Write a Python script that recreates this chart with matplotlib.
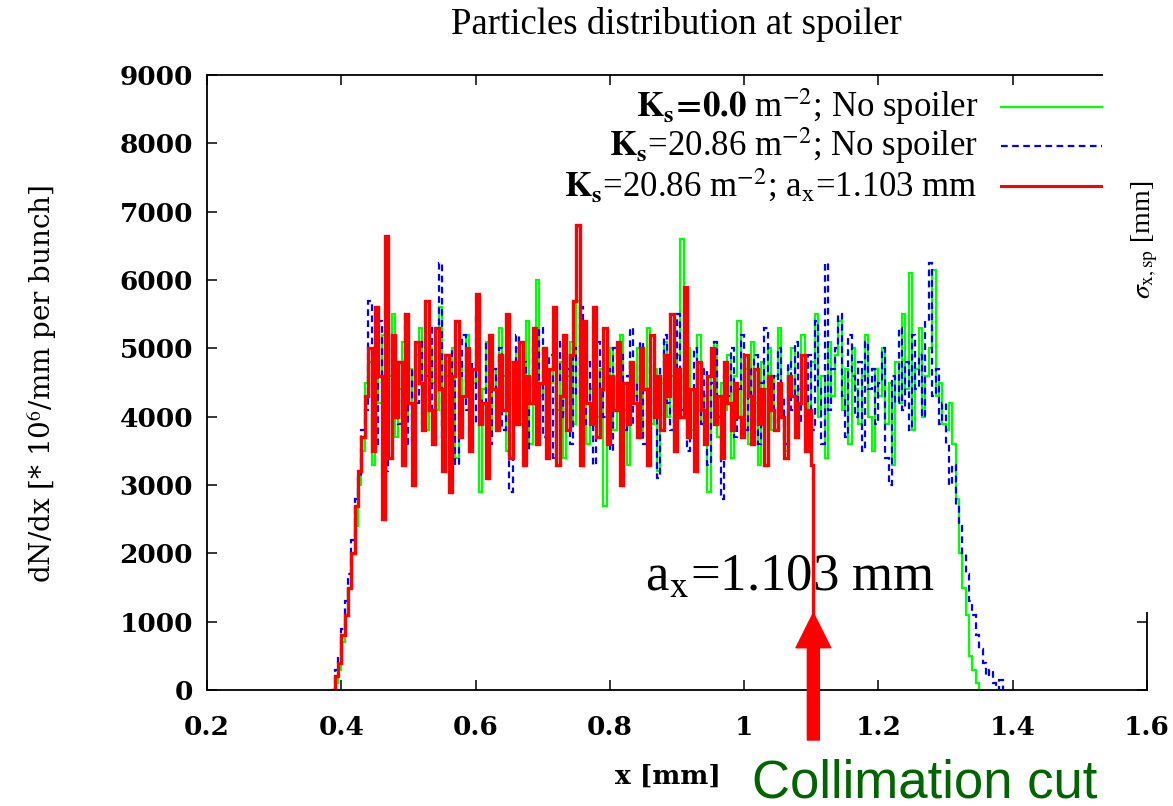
import matplotlib
matplotlib.use("Agg")
import matplotlib.pyplot as plt
from matplotlib.patches import Rectangle
import numpy as np

plt.rcParams["font.family"] = ["Liberation Serif", "DejaVu Serif"]
plt.rcParams["mathtext.fontset"] = "stix"

# histogram bins (mm)
bin_width = 0.005
green_start = 0.390
blue_start = 0.385
red_start = 0.390
red_cut = 1.103

# dN/dx [*10^6/mm per bunch]
green_counts = [
    100, 300, 700, 1100, 1500, 2000, 2400, 3000, 3500, 4500,
    4800, 3300, 5000, 4200, 5200, 3900, 4600, 5500, 3700, 4400,
    5100, 4000, 4700, 3600, 4900, 5300, 4300, 3800, 5000, 4500,
    4100, 5600, 3900, 4600, 4200, 5000, 3400, 4800, 4300, 5200,
    3700, 4500, 4900, 2900, 4400, 5100, 3800, 4700, 4000, 5300,
    4600, 3500, 4800, 4200, 5000, 3900, 4400, 5400, 3600, 4700,
    6000, 4300, 5000, 3800, 4500, 5200, 4100, 4800, 3400, 4600,
    5100, 3900, 5700, 4300, 4900, 3600, 4400, 5300, 4000, 4700,
    2700, 4500, 5000, 3800, 4600, 5200, 4100, 3300, 4800, 4300,
    5000, 3700, 4400, 5300, 3900, 4700, 3200, 4500, 5100, 4000,
    4600, 3500, 4900, 6600, 4200, 5000, 3800, 4400, 5200, 3900,
    4300, 2900, 4700, 5100, 3700, 4500, 4100, 4900, 3400, 4600,
    5400, 4000, 4700, 3600, 5100, 4200, 3300, 4800, 4400, 5000,
    3800, 4600, 5300, 4100, 3500, 4700, 5000, 3900, 4400, 5200,
    4300, 3700, 4800, 5500, 4000, 4600, 3400, 5100, 4300, 4900,
    5400, 4100, 4700, 3600, 5000, 4400, 3900, 4600, 5200, 4000,
    3500, 4700, 4300, 5000, 3900, 4500, 3300, 4800, 4200, 5500,
    4400, 6100, 3800, 4700, 5300, 4000, 4600, 5000, 6150, 4300,
    4500, 3900,
    3800, 4200, 3600, 2800, 2000, 1500, 1100, 500, 300, 100, 0,
]

blue_counts = [
    0, 300, 500, 900, 1300, 1700, 2200, 2800, 3100, 3800, 4100,
    5700, 4300, 3600, 5400, 4500, 3200, 5000, 4100, 4800, 3900,
    4400, 5500, 3600, 4700, 4200, 5100, 3800, 4600, 5300, 4000,
    4500, 6250, 3700, 4900, 4300, 5000, 3300, 4600, 5200, 4100,
    4800, 3900, 5500, 4300, 4000, 5100, 3600, 4700, 4400, 5000,
    3800, 4600, 2900, 4500, 5200, 4100, 4800, 3500, 4400, 5000,
    4200, 5300, 3700, 4600, 4900, 3400, 4500, 5100, 4000, 4700,
    3600, 5000, 4300, 5600, 3900, 4800, 4200, 3300, 5100, 4400,
    4000, 4700, 3500, 5000, 4300, 4900, 3800, 4600, 5300, 3900,
    4500, 5100, 3600, 4400, 4900, 4000, 3100, 4700, 5200, 4200,
    3800, 4600, 5500, 4100, 4800, 3500, 4400, 5000, 4300, 3900,
    4700, 3300, 4500, 5100, 4000, 2800, 4600, 4300, 5000, 3700,
    4400, 5200, 3800, 4700, 4100, 4900, 3600, 4500, 5300, 4200,
    4600, 3900, 5000, 4300, 3600, 4800, 4100, 5100, 3900, 4500,
    4200, 4900, 3800, 5400, 4400, 3600, 6250, 4100, 4700, 5000,
    5500, 4300, 3700, 5200, 4600, 4000, 4800, 3500, 5100, 4400,
    4700, 3900, 4500, 5000, 3400, 3000, 4600, 4200, 5300, 4100,
    4800, 3800, 5200, 4400, 4900, 4000, 5400, 6250, 4300, 4700,
    3900, 4200,
    3600, 3000, 3300, 2700, 2400, 2000, 1700, 1300, 1100, 800,
    600, 400, 200, 300, 100, 0, 150,
]

red_counts = [
    200, 400, 800, 1100, 1500, 2000, 2700, 3200, 3700, 4300,
    5000, 3500, 5600, 4600, 2500, 6650, 3400, 5200, 4000, 4800,
    3300, 5500, 4200, 3000, 5100, 4500, 3800, 5700, 4100, 3600,
    5300, 4400, 3200, 4900, 2900, 4600, 5400, 3700, 4300, 5000,
    3500, 4700, 5800, 3900, 4200, 3100, 5200, 4400, 3800, 4900,
    4100, 5500, 3400, 4800, 3900, 5100, 3300, 4600, 4200, 5300,
    3600, 4500, 5000, 3400, 4700, 5600, 3300, 4300, 5200, 3800,
    4900, 5700, 6800, 3300, 5400, 4200, 3900, 5600, 3700, 4400,
    5300, 3600, 4600, 4100, 5100, 3000, 4500, 3900, 4800, 4200,
    3700, 5000, 4400, 3300, 5200, 4000, 4600, 3800, 4900, 4300,
    5500, 3500, 4700, 4000, 5900, 3700, 4400, 3200, 4800, 4100,
    3600, 4600, 5000, 3900, 4300, 3400, 4800, 4200, 3800, 4500,
    4000, 3700, 4900, 4300, 3600, 4700, 3900, 4400, 3300, 4600,
    4100, 3800, 4500, 4000, 3400, 4600, 4300, 3700, 4200, 4900,
    3500, 4100,
    3300,
]

labels = [
    r"$\mathbf{K_s\!=\!0.0}$ m$^{-2}$; No spoiler",
    r"$\mathbf{K_s}$=20.86 m$^{-2}$; No spoiler",
    r"$\mathbf{K_s}$=20.86 m$^{-2}$; a$_\mathrm{x}$=1.103 mm",
]

green_edges = green_start + bin_width * np.arange(len(green_counts) + 1)
blue_edges = blue_start + bin_width * np.arange(len(blue_counts) + 1)
red_edges = np.append(red_start + bin_width * np.arange(len(red_counts)), red_cut)

fig = plt.figure(figsize=(11.73, 8.06), dpi=100)
ax = fig.add_axes([0.1765, 0.1439, 0.8014, 0.7630])

ax.stairs(green_counts, green_edges, color="#00ff00", lw=1.6, baseline=0)
ax.stairs(blue_counts, blue_edges, color="#0000ff", lw=1.6, ls=(0, (3, 2)), baseline=0)
ax.stairs(red_counts, red_edges, color="#ff0000", lw=2.4, baseline=0)

ax.set_xlim(0.2, 1.6)
ax.set_ylim(0, 9000)
ax.set_xticks(np.arange(0.2, 1.61, 0.2))
ax.set_xticklabels(["0.2", "0.4", "0.6", "0.8", "1", "1.2", "1.4", "1.6"])
ax.set_yticks(np.arange(0, 9001, 1000))
ax.tick_params(direction="in", length=7, width=1.1, top=True, right=True,
               labelsize=19, pad=18)
ax.tick_params(axis="y", pad=10)
for lab in ax.get_xticklabels() + ax.get_yticklabels():
    lab.set_family("DejaVu Serif")
    lab.set_fontweight("bold")
for sp in ax.spines.values():
    sp.set_linewidth(1.3)

# gnuplot-style key: text right-aligned, sample on the right
key_colors = ["#00ff00", "#0000ff", "#ff0000"]
key_styles = ["-", (0, (3, 2)), "-"]
key_y = [0.948, 0.885, 0.820]
for lab, c, s, y in zip(labels, key_colors, key_styles, key_y):
    ax.text(0.820, y, lab, transform=ax.transAxes, ha="right", va="center",
            fontsize=25)
    ax.plot([0.845, 0.952], [y, y], transform=ax.transAxes, color=c, ls=s,
            lw=1.6 if c != "#ff0000" else 2.2)

ax.text(0.852, 1640, r"a$_\mathrm{x}$=1.103 mm", fontsize=38, ha="left", va="center")
ax.annotate("", xy=(red_cut, 1127), xytext=(red_cut, -732),
            arrowprops=dict(facecolor="#ff0000", edgecolor="#ff0000", width=8.6,
                            headwidth=25, headlength=25, shrink=0),
            annotation_clip=False)

fig.text(0.577, 1 - 25 / 806, "Particles distribution at spoiler",
         ha="center", va="center", fontsize=26.5)
fig.text(42 / 1173, 1 - 384 / 806, r"dN/dx [* 10$^6$/mm per bunch]",
         rotation=90, ha="center", va="center", fontsize=20, family="DejaVu Serif")
fig.text(668 / 1173, 1 - 776 / 806, "x [mm]", ha="center", va="center",
         fontsize=19, family="DejaVu Serif", fontweight="bold")
fig.text(752 / 1173, 1 - 783 / 806, "Collimation cut", ha="left", va="center",
         fontsize=38, family="Liberation Sans", color="#006400")

# upper right of the frame is blanked out in the original
fig.patches.append(Rectangle((1103 / 1173, (806 - 612) / 806), 1, 1,
                             transform=fig.transFigure, facecolor="white",
                             edgecolor="none", zorder=10))
fig.text(1145 / 1173, 1 - 240 / 806, r"$\sigma_{\mathrm{x,sp}}$ [mm]", rotation=90,
         ha="center", va="center", fontsize=20, zorder=11)

fig.savefig("out.png", dpi=100)
